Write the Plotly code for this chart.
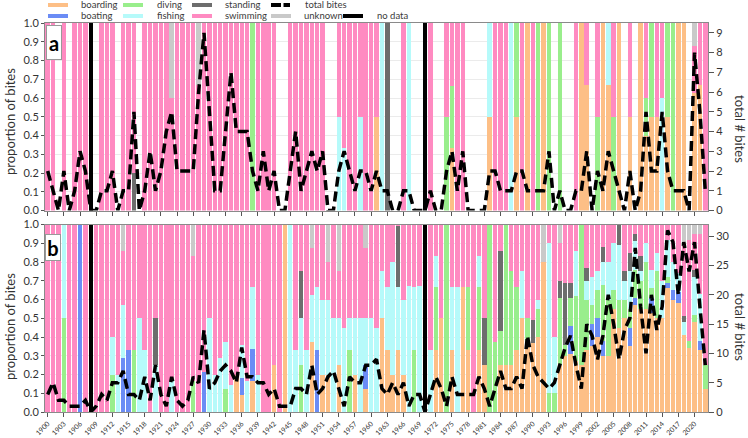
import plotly.graph_objects as go
from plotly.subplots import make_subplots

# ---------------- data ----------------
years = list(range(1900, 2023))
no_data_years = [1908, 1970]
tick_years = list(range(1900, 2021, 3))

categories = ["boarding", "boating", "diving", "fishing", "standing", "swimming", "unknown"]
colors = {"boarding": "#FDBF86", "boating": "#6B8CF5", "diving": "#99EE8C", "fishing": "#B6FAFA",
          "standing": "#6D6D6D", "swimming": "#FF8AC1", "unknown": "#C9C9C9"}

# panel a: total bites per year
total_a = [2, 1, 0, 2, 0, 1, 3, 2, 0, 0,
           1, 1, 2, 0, 1, 1, 5, 0, 1, 3,
           1, 2, 4, 5, 2, 2, 2, 2, 6, 9,
           5, 1, 1, 4, 7, 4, 4, 4, 2, 1,
           3, 1, 2, 0, 0, 2, 4, 1, 2, 3,
           2, 3, 0, 0, 2, 3, 2, 1, 2, 2,
           1, 2, 1, 1, 0, 0, 1, 1, 0, 0,
           0, 1, 0, 0, 2, 3, 1, 3, 0, 0,
           0, 0, 2, 2, 1, 1, 1, 2, 2, 1,
           1, 1, 1, 3, 0, 1, 0, 0, 1, 1,
           3, 0, 2, 1, 3, 2, 1, 0, 2, 0,
           1, 5, 2, 2, 5, 2, 1, 1, 1, 0,
           8, 5, 1]

# panel a: proportions (swimming = remainder)
boarding_a = {1961: .5, 1975: .333, 1982: .5, 1987: .5, 1989: 1, 1992: 1, 1999: 1, 2000: .667,
              2003: 1, 2004: .667, 2006: 1, 2008: .5, 2010: 1, 2011: .4, 2012: .5, 2013: .5,
              2015: .5, 2017: 1, 2018: 1, 2020: .625, 2021: .667}
boating_a = {}
diving_a = {1938: 1, 1974: .5, 1975: .333, 1987: .5, 1991: 1, 1993: 1, 1995: 1, 2002: .5,
            2005: .5, 2011: .2, 2012: .5, 2015: .5, 2016: 1}
fishing_a = {1954: .5, 1955: .333, 1958: .5, 1962: 1, 1967: 1, 1982: .5, 1986: 1, 2004: .333, 2014: .6}
standing_a = {1916: .2, 1963: 1}
unknown_a = {1923: .4, 1928: .333, 2020: .125}

# panel b: total bites per year
total_b = [3, 5, 2, 2, 1, 1, 1, 2, 0, 1,
           3, 2, 5, 5, 7, 3, 3, 2, 6, 2,
           8, 3, 1, 6, 2, 1, 2, 6, 5, 14,
           4, 5, 7, 8, 7, 5, 11, 6, 6, 5,
           5, 3, 4, 1, 1, 1, 4, 4, 3, 8,
           3, 4, 6, 7, 4, 1, 6, 5, 5, 8,
           8, 9, 4, 3, 5, 3, 5, 1, 3, 3,
           0, 3, 6, 4, 1, 6, 3, 3, 3, 3,
           6, 4, 1, 4, 7, 4, 4, 6, 4, 13,
           8, 6, 5, 4, 5, 8, 11, 13, 8, 4,
           15, 13, 9, 13, 20, 15, 9, 14, 16, 28,
           18, 10, 20, 14, 18, 31, 29, 20, 29, 24,
           29, 18, 8]

boarding_b = {1935: .2, 1936: .09, 1938: .167, 1942: .25, 1944: 1, 1949: .375, 1951: .2, 1952: .2,
              1954: .25, 1957: .2, 1959: .125, 1962: .5, 1963: .333, 1964: .2, 1965: .333, 1966: .2,
              1972: .333, 1973: .5, 1975: .333, 1977: .667, 1978: .333, 1980: .333, 1981: .25,
              1984: .25, 1985: .25, 1986: .25, 1987: .333, 1988: .5, 1989: .35, 1990: .37, 1991: .4,
              1992: .8, 1995: .25, 1996: .3, 1997: .31, 1998: .27, 1999: .25, 2000: .33, 2001: .35,
              2002: .4, 2003: .3, 2004: .3, 2005: .55, 2006: .45, 2007: .5, 2008: .35, 2009: .57,
              2010: .55, 2011: .55, 2012: .53, 2013: .5, 2014: .5, 2015: .66, 2016: .6, 2017: .58,
              2018: .41, 2019: .34, 2020: .48, 2021: .33, 2022: .125}
boating_b = {1906: 1, 1914: .286, 1915: .333, 1929: .214, 1936: .09, 1938: .167, 1950: .333,
             1959: .125, 1997: .15, 2001: .12, 2002: .1, 2003: .08, 2008: .1, 2009: .04, 2012: .08,
             2015: .03, 2016: .05, 2017: .06, 2021: .05}
diving_b = {1903: .5, 1912: .2, 1916: .333, 1927: .167, 1933: .125, 1947: .25, 1956: .333, 1968: .333,
            1972: .333, 1974: 1, 1978: .333, 1980: .333, 1982: 1, 1983: .375, 1984: .18, 1985: .75,
            1986: .5, 1987: .333, 1989: .15, 1991: .15, 1993: .1, 1994: .1, 1995: .36, 1996: .06,
            1997: .15, 1998: .35, 1999: .75, 2000: .27, 2001: .1, 2002: .15, 2003: .3, 2004: .3,
            2005: .1, 2006: .15, 2007: .1, 2008: .1, 2009: .15, 2010: .15, 2011: .25, 2012: .05,
            2013: .25, 2015: .03, 2019: .04, 2020: .04, 2022: .125}
fishing_b = {1903: .5, 1912: .2, 1913: .2, 1914: .286, 1917: .5, 1918: .333, 1920: .25, 1923: .167,
             1930: .5, 1931: .2, 1932: .286, 1933: .25, 1934: .143, 1936: .18, 1937: .167, 1938: .333,
             1939: .2, 1945: 1, 1946: .33, 1947: .25, 1948: .333, 1949: .25, 1950: .333, 1951: .4,
             1952: .4, 1953: .5, 1954: .25, 1955: .45, 1956: .167, 1957: .3, 1958: .5, 1959: .25,
             1960: .5, 1961: .45, 1962: .25, 1963: .333, 1964: .6, 1965: .333, 1966: .4, 1967: .67,
             1968: .333, 1969: .67, 1971: .333, 1972: .167, 1975: .333, 1976: .667, 1980: .167,
             1988: .25, 1991: .05, 1993: .8, 1994: .3, 1998: .24, 2000: .1, 2001: .15, 2002: .1,
             2003: .12, 2004: .2, 2005: .25, 2006: .29, 2007: .1, 2008: .2, 2009: .15, 2010: .05,
             2011: .1, 2012: .1, 2013: .1, 2014: .2, 2015: .2, 2016: .15, 2017: .1, 2018: .07,
             2020: .2, 2021: .25}
standing_b = {1920: .25, 1947: .25, 1965: .333, 1981: .25, 1984: .43, 1990: .12, 1995: .09, 1996: .33,
              1997: .08, 2000: .07, 2003: .08, 2006: .11, 2007: .05, 2008: .1, 2009: .04, 2010: .08,
              2018: .03, 2020: .04}
unknown_b = {1914: .143, 1927: .167, 1949: .125, 1952: .2, 1954: .25, 1959: .125, 1992: .2, 1995: .1,
             2018: .1, 2019: .08, 2020: .05, 2021: .05}

parts_a = {"boarding": boarding_a, "boating": boating_a, "diving": diving_a, "fishing": fishing_a,
           "standing": standing_a, "unknown": unknown_a}
parts_b = {"boarding": boarding_b, "boating": boating_b, "diving": diving_b, "fishing": fishing_b,
           "standing": standing_b, "unknown": unknown_b}


def stacks(total, parts):
    out = {}
    for cat in categories:
        vals = []
        for i, y in enumerate(years):
            if total[i] == 0 or y in no_data_years:
                vals.append(0)
            elif cat == "swimming":
                other = sum(parts[c].get(y, 0) for c in parts)
                vals.append(max(0.0, 1 - other))
            else:
                vals.append(parts[cat].get(y, 0))
        out[cat] = vals
    return out


# ---------------- figure ----------------
W, H = 748, 438
ML, MR, MT, MB = 45, 40, 23, 26
PW, PH = W - ML - MR, H - MT - MB

fig = make_subplots(rows=2, cols=1, vertical_spacing=14 / PH,
                    specs=[[{"secondary_y": True}], [{"secondary_y": True}]])

for row, total, parts in [(1, total_a, parts_a), (2, total_b, parts_b)]:
    st = stacks(total, parts)
    for cat in categories:
        fig.add_trace(go.Bar(x=years, y=st[cat], marker=dict(color=colors[cat], line=dict(width=0)),
                             name=cat, showlegend=False), row=row, col=1, secondary_y=False)
    nd = [1 if y in no_data_years else 0 for y in years]
    fig.add_trace(go.Bar(x=years, y=nd, marker=dict(color="black", line=dict(width=0)),
                         name="no data", showlegend=False), row=row, col=1, secondary_y=False)
    fig.add_trace(go.Scatter(x=years, y=total, mode="lines",
                             line=dict(color="black", width=3.5, dash="10px,5px"),
                             showlegend=False, name="total bites"),
                  row=row, col=1, secondary_y=True)

axis_line = "#8a8a8a"
for row in (1, 2):
    fig.update_xaxes(row=row, col=1, domain=[0, 1], range=[1899.5, 2022.5], tickvals=tick_years,
                     ticks="outside", ticklen=4, tickcolor="#555", showline=True,
                     linecolor=axis_line, mirror=True, showgrid=False, zeroline=False,
                     showticklabels=(row == 2), tickangle=-45, automargin=False,
                     tickfont=dict(size=7, color="#333"))
    fig.update_yaxes(row=row, col=1, secondary_y=False, range=[0, 1],
                     tickvals=[round(0.1 * k, 1) for k in range(11)], tickformat=".1f",
                     ticks="outside", ticklen=3, tickcolor="#555", showline=True,
                     linecolor=axis_line, showgrid=True, gridcolor="#ebebeb", zeroline=False,
                     automargin=False, tickfont=dict(size=11, color="#333"))
fig.update_yaxes(row=1, col=1, secondary_y=True, range=[0, 9.5], tickvals=list(range(10)),
                 ticks="outside", ticklen=5, tickcolor="#555", showline=True, linecolor=axis_line,
                 showgrid=False, zeroline=False, automargin=False,
                 tickfont=dict(size=11, color="#333"))
fig.update_yaxes(row=2, col=1, secondary_y=True, range=[0, 32], tickvals=list(range(0, 31, 5)),
                 ticks="outside", ticklen=5, tickcolor="#555", showline=True, linecolor=axis_line,
                 showgrid=False, zeroline=False, automargin=False,
                 tickfont=dict(size=11, color="#333"))


def px(xp):
    return (xp - ML) / PW


def py(yp):
    return (H - MB - yp) / PH


ann = []
shapes = []
# axis titles
for yc in (122, 327):
    ann.append(dict(text="proportion of bites", x=px(10), y=py(yc), xref="paper", yref="paper",
                    xanchor="center", yanchor="middle",
                    textangle=-90, showarrow=False, font=dict(size=13, color="#333")))
for yc in (129, 327):
    ann.append(dict(text="total # bites", x=px(740), y=py(yc), xref="paper", yref="paper",
                    xanchor="center", yanchor="middle",
                    textangle=90, showarrow=False, font=dict(size=13, color="#333")))
# panel labels
for lab, xc, yc, hh in (("a", 53.5, 42.2, 33), ("b", 53.2, 247, 25)):
    ann.append(dict(text="<b>%s</b>" % lab, x=px(xc), y=py(yc), xref="paper", yref="paper",
                    xanchor="center", yanchor="middle",
                    showarrow=False, bgcolor="white", bordercolor="#999", borderwidth=1,
                    borderpad=0, width=14, height=hh, font=dict(size=20, color="black")))

# legend (manual, column-major like the reference)
legend_items = [
    ("boarding", colors["boarding"], 48, 79, 5), ("boating", colors["boating"], 48, 79, 16),
    ("diving", colors["diving"], 123, 155, 5), ("fishing", colors["fishing"], 123, 155, 16),
    ("standing", colors["standing"], 192, 223, 5), ("swimming", colors["swimming"], 192, 223, 16),
    ("total bites", None, 271, 303, 5), ("unknown", colors["unknown"], 271, 302, 16),
    ("no data", "black", 343, 375, 16),
]
for name, col, xs, xt, yr in legend_items:
    if col is None:
        for a, b in ((271, 281), (283.5, 290)):
            shapes.append(dict(type="line", xref="paper", yref="paper", x0=px(a), x1=px(b),
                               y0=py(yr), y1=py(yr), line=dict(color="black", width=4)))
    else:
        shapes.append(dict(type="line", xref="paper", yref="paper", x0=px(xs), x1=px(xs + 20),
                           y0=py(yr), y1=py(yr), line=dict(color=col, width=4)))
    ann.append(dict(text=name, x=px(xt), y=py(yr), xref="paper", yref="paper", xanchor="left",
                    yanchor="middle", showarrow=False, font=dict(size=9.5, color="#3a3a3a")))

fig.update_layout(width=W, height=H, margin=dict(l=ML, r=MR, t=MT, b=MB), barmode="stack",
                  bargap=0.17, showlegend=False, plot_bgcolor="white", paper_bgcolor="white",
                  font=dict(family="Lato, Arial, sans-serif", color="#333"),
                  annotations=ann, shapes=shapes)

fig.write_html("out.html", config={"displayModeBar": False},
               post_script="document.body.style.margin='0';document.body.style.overflow='hidden';")
